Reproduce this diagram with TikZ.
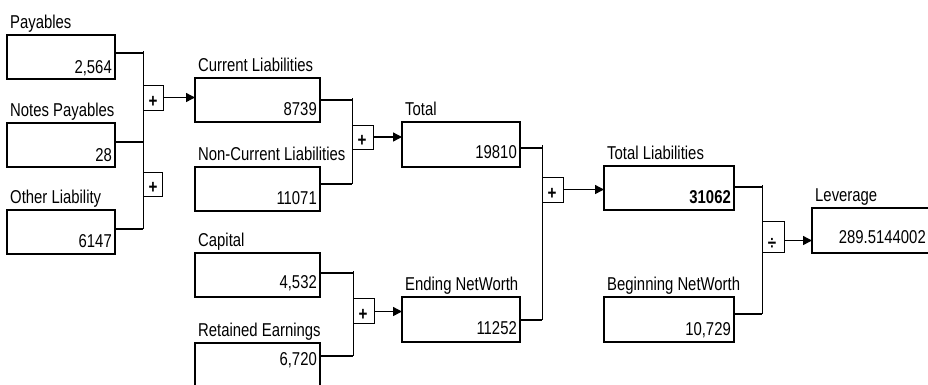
\documentclass[tikz,border=0pt]{standalone}
\usepackage{fontspec}
\setmainfont{Liberation Sans}[FakeStretch=0.8]
\usetikzlibrary{arrows.meta,calc}
\newcommand\ratbox[8]{% name, x1, y1, x2, y2, label, value, value baseline
  \node[valbox, minimum width={(#4-#2)*1pt}, minimum height={(#5-#3)*1pt}] (#1) at (#2,#3) {};
  \node[lab] (#1l) at (#2+3,#3-7) {#6};
  \node[val] (#1v) at (#4-3,#8) {#7};
}
\newcommand\opbox[6]{% name, x1, y1, x2, y2, sign
  \node[opb, minimum width={(#4-#2)*1pt}, minimum height={(#5-#3)*1pt}] (#1) at (#2,#3) {};
  \node[sign] (#1s) at ($(#1.south west)+(10,-8)$) {#6};
}
\begin{document}
\begin{tikzpicture}[x=1pt,y=-1pt,
  font=\fontsize{18.6}{20}\selectfont,
  valbox/.style={draw, line width=2.2pt, inner sep=0pt, outer sep=0pt, anchor=north west},
  opb/.style={draw, line width=0.9pt, inner sep=0pt, outer sep=0pt, anchor=north west},
  lab/.style={anchor=base west, inner sep=0pt},
  val/.style={anchor=base east, inner sep=0pt},
  sign/.style={inner sep=0pt, font=\fontsize{19}{19}\selectfont\bfseries},
  conn/.style={line width=1.4pt},
  brk/.style={line width=0.9pt},
  arr/.style={line width=1.4pt, -{Triangle[length=9pt,width=9pt]}}]
\useasboundingbox[fill=white] (0,0) rectangle (928,384);
% boxes
\ratbox{pay}{7}{35}{115}{79}{Payables}{2,564}{73}
\ratbox{notes}{7}{123}{115}{167}{Notes Payables}{28}{161}
\ratbox{oth}{7}{210}{115}{254}{Other Liability}{6147}{247}
\ratbox{cur}{195}{78}{320}{122}{Current Liabilities}{8739}{115}
\ratbox{ncur}{195}{167}{320}{211}{Non-Current Liabilities}{11071}{204}
\ratbox{cap}{195}{253}{320}{297}{Capital}{4,532}{288}
\ratbox{ret}{195}{343}{320}{390}{Retained Earnings}{6,720}{365}
\ratbox{tot}{402}{122}{520}{167}{Total}{19810}{158}
\ratbox{end}{402}{297}{520}{342}{Ending NetWorth}{11252}{334}
\ratbox{tl}{604}{166}{734}{210}{Total Liabilities}{\bfseries 31062}{203}
\ratbox{beg}{604}{297}{734}{342}{Beginning NetWorth}{10,729}{335}
\node[valbox, minimum width=120pt, minimum height=45pt] (lev) at (812,208) {};
\node[lab] (levl) at (815,201) {Leverage};
\node[val] (levv) at (926,243) {289.5144002};
% operator boxes
\opbox{p1}{143}{85}{163}{110}{+}
\opbox{p2}{143}{172}{162}{196}{+}
\opbox{p3}{352}{125}{373}{149}{+}
\opbox{p4}{353}{298}{374}{323}{+}
\opbox{p5}{542}{177}{563}{202}{+}
\opbox{p6}{762}{221}{784}{252}{÷}
% bracket 1
\coordinate (b1t) at (143,53);
\coordinate (b1b) at (143,229);
\draw[brk] ([yshift=2pt]b1t) -- (b1b);
\draw[conn] (pay.east |- b1t) -- (b1t);
\draw[conn] ([yshift=3pt]notes.east) -- ([yshift=3pt]notes.east -| b1t);
\draw[conn] (oth.east |- b1b) -- (b1b);
\draw[arr] (p1.east) -- (p1.east -| cur.west);
% bracket 2
\coordinate (b2t) at (352,100);
\coordinate (b2b) at (352,184);
\draw[brk] ([yshift=2pt]b2t) -- (b2b);
\draw[conn] (cur.east |- b2t) -- (b2t);
\draw[conn] (ncur.east |- b2b) -- (b2b);
\draw[arr] (p3.east) -- (p3.east -| tot.west);
% bracket 3
\coordinate (b3t) at (353,273);
\coordinate (b3b) at (353,356);
\draw[brk] ([yshift=2pt]b3t) -- (b3b);
\draw[conn] (cap.east |- b3t) -- (b3t);
\draw[conn] (ret.east |- b3b) -- (b3b);
\draw[arr] ([yshift=-1pt]p4.east) -- ([yshift=-1pt]p4.east -| end.west);
% bracket 4
\coordinate (b4t) at (542,148);
\coordinate (b4b) at (542,320);
\draw[brk] ([yshift=3pt]b4t) -- (b4b);
\draw[conn] (tot.east |- b4t) -- (b4t);
\draw[conn] (end.east |- b4b) -- (b4b);
\draw[arr] (p5.east) -- (p5.east -| tl.west);
% bracket 5
\coordinate (b5t) at (762,187);
\coordinate (b5b) at (762,314);
\draw[brk] ([yshift=2pt]b5t) -- (b5b);
\draw[conn] (tl.east |- b5t) -- (b5t);
\draw[conn] (beg.east |- b5b) -- (b5b);
\draw[arr] ([yshift=-4pt]p6.east) -- ([yshift=-4pt]p6.east -| lev.west);
\end{tikzpicture}
\end{document}
